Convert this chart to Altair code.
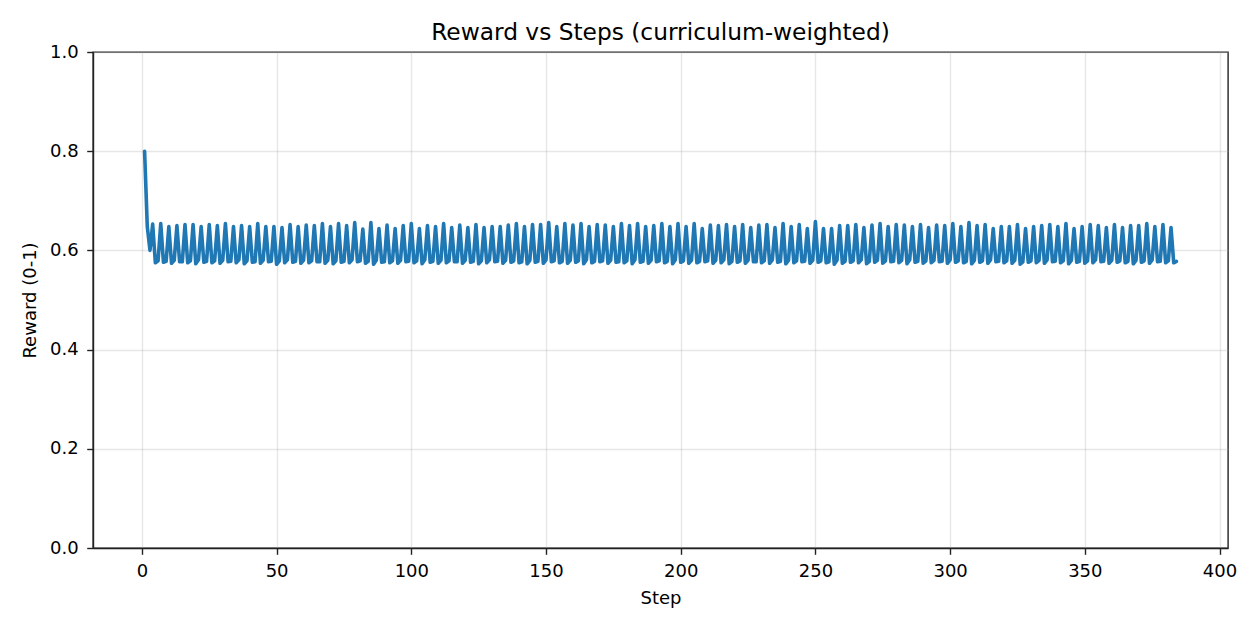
import altair as alt
import pandas as pd

# first three steps (initial drop)
head = [0.800, 0.648, 0.600]

# oscillation: peak, then two low points, repeated
peaks = [
    0.653, 0.654, 0.648, 0.650, 0.652, 0.652, 0.648, 0.652, 0.650, 0.654,
    0.648, 0.650, 0.648, 0.654, 0.648, 0.648, 0.646, 0.652, 0.648, 0.651,
    0.650, 0.654, 0.648, 0.654, 0.650, 0.656, 0.643, 0.656, 0.644, 0.651,
    0.644, 0.650, 0.654, 0.644, 0.650, 0.648, 0.654, 0.646, 0.651, 0.646,
    0.652, 0.646, 0.648, 0.648, 0.651, 0.654, 0.648, 0.652, 0.652, 0.656,
    0.648, 0.654, 0.651, 0.654, 0.648, 0.652, 0.651, 0.648, 0.654, 0.650,
    0.654, 0.648, 0.650, 0.654, 0.648, 0.654, 0.648, 0.654, 0.644, 0.651,
    0.650, 0.652, 0.648, 0.652, 0.646, 0.651, 0.652, 0.646, 0.654, 0.648,
    0.652, 0.644, 0.658, 0.644, 0.644, 0.650, 0.650, 0.652, 0.646, 0.651,
    0.654, 0.648, 0.652, 0.651, 0.648, 0.652, 0.646, 0.651, 0.650, 0.654,
    0.648, 0.656, 0.650, 0.652, 0.644, 0.648, 0.648, 0.652, 0.644, 0.648,
    0.650, 0.652, 0.648, 0.654, 0.644, 0.648, 0.652, 0.650, 0.646, 0.652,
    0.646, 0.650, 0.650, 0.654, 0.648, 0.652, 0.646,
]
lows_a = [
    0.575, 0.576, 0.574, 0.577, 0.575, 0.573, 0.576, 0.575, 0.574, 0.577,
    0.575, 0.573, 0.576, 0.574, 0.577, 0.572, 0.575, 0.576, 0.574, 0.575,
    0.577, 0.574, 0.573, 0.576, 0.575, 0.577, 0.574, 0.572, 0.576, 0.575,
    0.574, 0.577, 0.575, 0.573, 0.576, 0.574, 0.575, 0.577, 0.574, 0.576,
    0.573, 0.575, 0.577, 0.574, 0.576, 0.575, 0.573, 0.576, 0.574, 0.577,
    0.575, 0.574, 0.576, 0.573, 0.575, 0.577, 0.574, 0.576, 0.575, 0.573,
    0.576, 0.574, 0.577, 0.575, 0.573, 0.576, 0.574, 0.575, 0.577, 0.574,
    0.575, 0.573, 0.576, 0.574, 0.577, 0.575, 0.574, 0.576, 0.573, 0.575,
    0.577, 0.574, 0.576, 0.575, 0.572, 0.574, 0.576, 0.575, 0.573, 0.576,
    0.574, 0.577, 0.575, 0.573, 0.576, 0.574, 0.575, 0.577, 0.574, 0.576,
    0.575, 0.573, 0.576, 0.574, 0.577, 0.575, 0.574, 0.572, 0.576, 0.575,
    0.574, 0.577, 0.575, 0.573, 0.576, 0.574, 0.575, 0.577, 0.574, 0.576,
    0.575, 0.573, 0.576, 0.574, 0.577, 0.575, 0.575,
]
lows_b = [
    0.579, 0.578, 0.580, 0.577, 0.579, 0.581, 0.578, 0.579, 0.580, 0.578,
    0.581, 0.579, 0.577, 0.580, 0.578, 0.579, 0.581, 0.578, 0.580, 0.579,
    0.577, 0.580, 0.579, 0.578, 0.581, 0.579, 0.578, 0.580, 0.577, 0.579,
    0.580, 0.578, 0.579, 0.581, 0.578, 0.580, 0.579, 0.577, 0.580, 0.578,
    0.579, 0.581, 0.578, 0.580, 0.579, 0.577, 0.580, 0.578, 0.581, 0.579,
    0.578, 0.580, 0.579, 0.581, 0.578, 0.579, 0.580, 0.577, 0.579, 0.581,
    0.578, 0.580, 0.579, 0.578, 0.581, 0.579, 0.580, 0.578, 0.579, 0.580,
    0.581, 0.578, 0.579, 0.580, 0.577, 0.579, 0.581, 0.578, 0.580, 0.579,
    0.578, 0.580, 0.579, 0.577, 0.580, 0.578, 0.579, 0.581, 0.578, 0.580,
    0.579, 0.578, 0.580, 0.581, 0.578, 0.579, 0.580, 0.578, 0.581, 0.579,
    0.578, 0.580, 0.579, 0.581, 0.578, 0.579, 0.580, 0.577, 0.579, 0.580,
    0.581, 0.578, 0.579, 0.580, 0.578, 0.579, 0.581, 0.578, 0.580, 0.579,
    0.578, 0.580, 0.579, 0.581, 0.578, 0.579, 0.578,
]

x_ticks = [0, 50, 100, 150, 200, 250, 300, 350, 400]
y_ticks = [0.0, 0.2, 0.4, 0.6, 0.8, 1.0]

rewards = list(head)
for p, a, b in zip(peaks, lows_a, lows_b):
    rewards += [p, a, b]
steps = list(range(1, len(rewards) + 1))
df = pd.DataFrame({"Step": steps, "Reward": rewards})

FONT = "DejaVu Sans"

chart = (
    alt.Chart(df)
    .mark_line(color="#1f77b4", strokeWidth=3.6, strokeJoin="round", strokeCap="round")
    .encode(
        x=alt.X(
            "Step:Q",
            scale=alt.Scale(domain=[-18.15, 403.15], nice=False, zero=False),
            axis=alt.Axis(values=x_ticks, format="d", title="Step", titlePadding=9),
        ),
        y=alt.Y(
            "Reward:Q",
            scale=alt.Scale(domain=[0, 1], nice=False),
            axis=alt.Axis(values=y_ticks, format=".1f", title="Reward (0-1)", titlePadding=10),
        ),
    )
    .properties(
        width=1135,
        height=496,
        title=alt.TitleParams(
            "Reward vs Steps (curriculum-weighted)",
            font=FONT,
            fontSize=23.3,
            fontWeight="normal",
            color="black",
            offset=-2,
        ),
        autosize=alt.AutoSizeParams(type="none"),
        padding={"left": 85, "top": 44, "right": 24, "bottom": 66},
    )
    .configure_axis(
        grid=True,
        gridColor="#b0b0b0",
        gridOpacity=0.3,
        gridWidth=1.4,
        domainColor="#222222",
        domainWidth=1.4,
        tickColor="#222222",
        tickSize=6.3,
        tickWidth=1.4,
        labelFont=FONT,
        labelFontSize=18,
        labelColor="black",
        labelPadding=8.5,
        titleFont=FONT,
        titleFontSize=18,
        titleFontWeight="normal",
        titleColor="black",
    )
    .configure_view(stroke="#222222", strokeWidth=1.4)
)

chart.save("out.html", embed_options={"renderer": "svg", "actions": False})
